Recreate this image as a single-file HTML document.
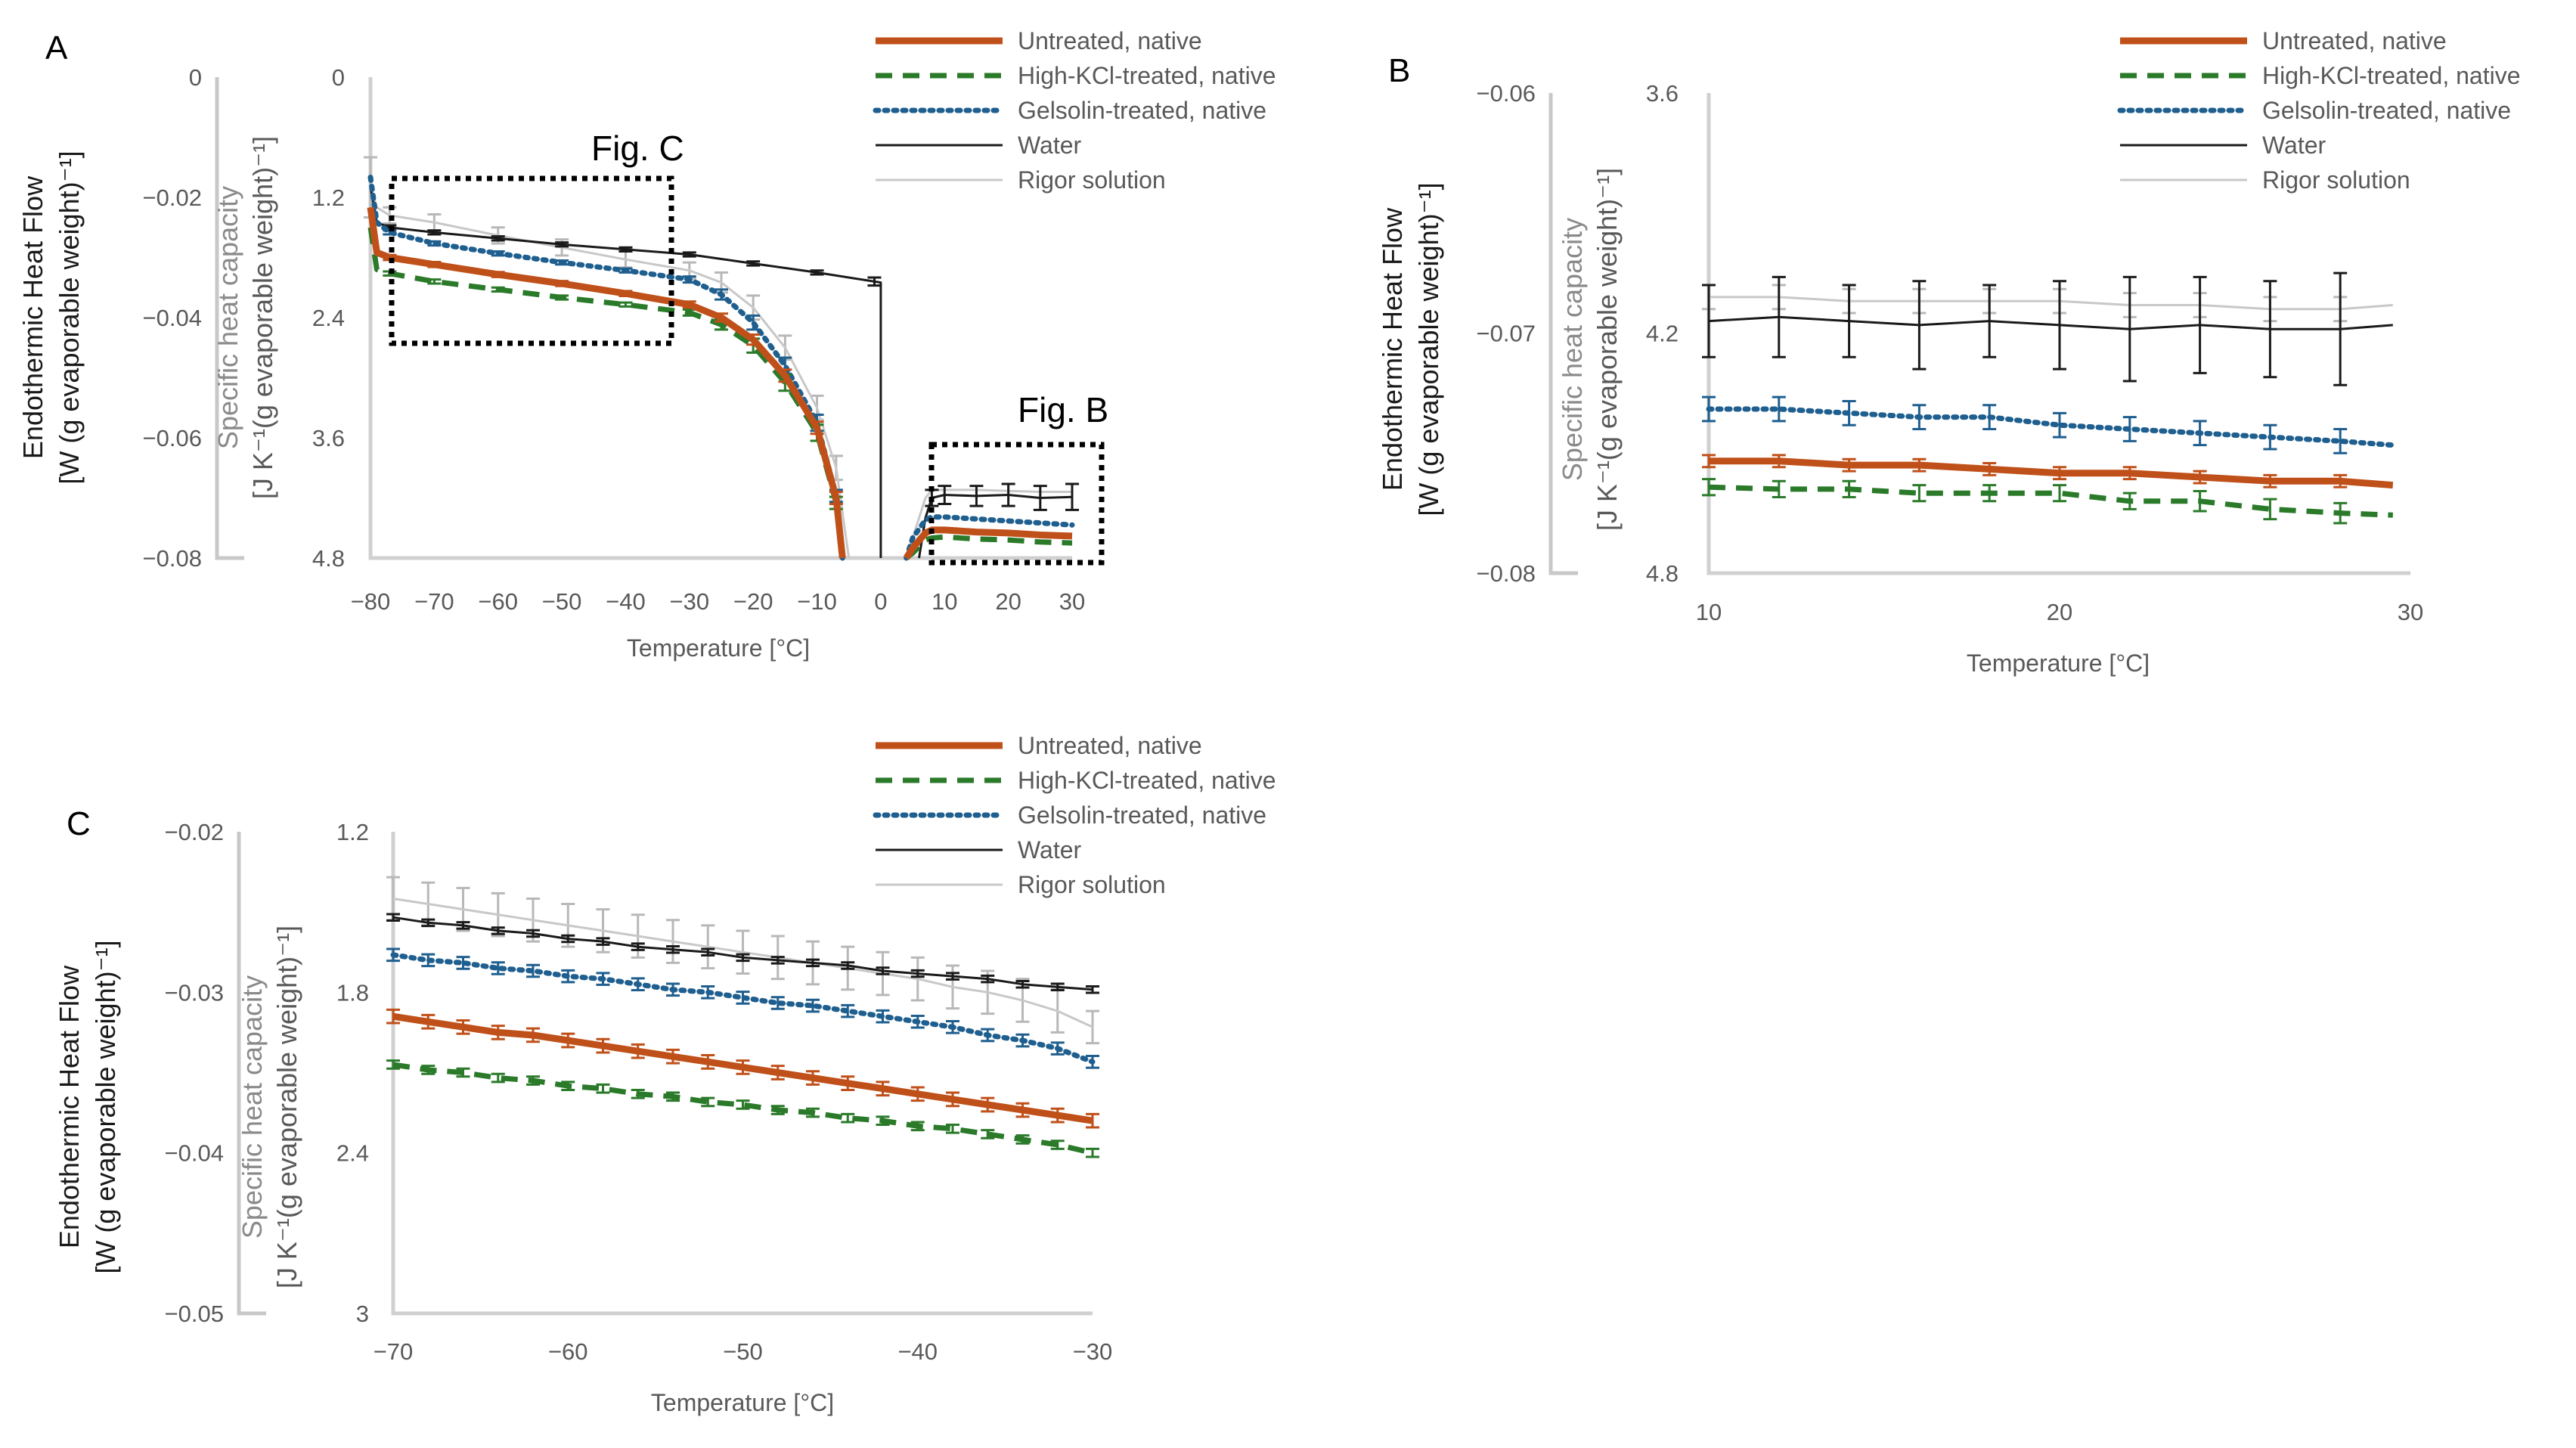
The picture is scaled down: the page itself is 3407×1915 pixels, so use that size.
<!DOCTYPE html>
<html><head><meta charset="utf-8">
<style>
html,body{margin:0;padding:0;background:#fff;}
svg{display:block;font-family:"Liberation Sans",sans-serif;}
</style></head>
<body>
<svg id="fig" width="3407" height="1915" viewBox="0 0 3407 1915" xmlns="http://www.w3.org/2000/svg">
<rect width="3407" height="1915" fill="#fff"/>
<g id="layer"></g>
</svg>
<script>
// ---------- DATA ----------
// Panel A
const aFrozenT = [-80,-79,-77,-70,-60,-50,-40,-30,-25,-20,-15,-10,-7,-6];
const aMeltT = [4,5,7,8,10,15,20,25,30];
const aWaterT = [-80,-79,-77,-70,-60,-50,-40,-30,-20,-10,-1,0,0];
const aWaterV = [1.1,1.45,1.5,1.55,1.61,1.67,1.72,1.77,1.86,1.95,2.04,2.05,4.8];
const aWaterErr = [0,0,0.02,0.02,0.02,0.02,0.02,0.02,0.02,0.02,0.04,0,0];
const aWaterMeltT = [6,7,8,10,15,20,25,30];
const aWaterMeltV = [4.8,4.4,4.2,4.17,4.18,4.17,4.2,4.19];
const aWaterMeltErr = [0,0,0.08,0.09,0.1,0.11,0.12,0.13];
const aRigorT = [-80,-79,-77,-70,-60,-50,-40,-30,-25,-20,-15,-10,-7,-5];
const aRigorV = [1.1,1.3,1.38,1.45,1.58,1.7,1.82,1.93,2.05,2.3,2.7,3.3,3.9,4.8];
const aRigorErr = [0.3,0,0.08,0.08,0.08,0.08,0.08,0.08,0.1,0.12,0.12,0.12,0.12,0];
const aRigorMeltV = [4.8,4.6,4.2,4.12,4.12,4.12,4.13,4.14,4.14];
const aUntrV = [1.3,1.75,1.8,1.87,1.97,2.06,2.16,2.27,2.4,2.62,2.98,3.5,4.2,4.8];
const aUntrErr = [0,0,0.025,0.025,0.025,0.025,0.025,0.03,0.04,0.05,0.06,0.06,0.06,0];
const aUntrMeltV = [4.8,4.7,4.55,4.52,4.52,4.54,4.55,4.57,4.58];
const aKclV = [1.5,1.92,1.96,2.04,2.12,2.2,2.27,2.35,2.47,2.68,3.05,3.55,4.25,4.8];
const aKclErr = [0,0,0.02,0.02,0.02,0.02,0.02,0.03,0.05,0.07,0.08,0.08,0.06,0];
const aKclMeltV = [4.8,4.75,4.62,4.6,4.59,4.61,4.62,4.64,4.65];
const aGelV = [1.0,1.45,1.55,1.66,1.76,1.85,1.93,2.02,2.17,2.45,2.88,3.45,4.18,4.8];
const aGelErr = [0,0,0.02,0.02,0.02,0.02,0.02,0.03,0.05,0.07,0.08,0.08,0.06,0];
const aGelMeltV = [4.8,4.6,4.42,4.39,4.39,4.41,4.43,4.45,4.47];
const aXTicks = [-80,-70,-60,-50,-40,-30,-20,-10,0,10,20,30];
const aYTicks = [0,1.2,2.4,3.6,4.8];
const aY2Ticks = ["0","\u22120.02","\u22120.04","\u22120.06","\u22120.08"];

// Panel B
const bT = [10,12,14,16,18,20,22,24,26,28,29.5];
const bWater = [4.17,4.16,4.17,4.18,4.17,4.18,4.19,4.18,4.19,4.19,4.18];
const bRigor = [4.11,4.11,4.12,4.12,4.12,4.12,4.13,4.13,4.14,4.14,4.13];
const bGel = [4.39,4.39,4.40,4.41,4.41,4.43,4.44,4.45,4.46,4.47,4.48];
const bUntr = [4.52,4.52,4.53,4.53,4.54,4.55,4.55,4.56,4.57,4.57,4.58];
const bKcl = [4.585,4.59,4.59,4.60,4.60,4.60,4.62,4.62,4.64,4.65,4.655];
const bErrWater = [0.09,0.1,0.09,0.11,0.09,0.11,0.13,0.12,0.12,0.14,0];
const bErrRigor = [0.03,0.03,0.03,0.03,0.03,0.03,0.03,0.03,0.03,0.03,0];
const bErrGel = [0.03,0.03,0.03,0.03,0.03,0.03,0.03,0.03,0.03,0.03,0];
const bErrUntr = [0.015,0.015,0.015,0.015,0.015,0.015,0.015,0.015,0.015,0.015,0];
const bErrKcl = [0.02,0.02,0.02,0.02,0.02,0.02,0.02,0.025,0.025,0.025,0];
const bXTicks = [10,20,30];
const bYTicks = [3.6,4.2,4.8];
const bY2Ticks = ["\u22120.06","\u22120.07","\u22120.08"];

// Panel C
const cT = [-70,-68,-66,-64,-62,-60,-58,-56,-54,-52,-50,-48,-46,-44,-42,-40,-38,-36,-34,-32,-30];
const cWater = [1.52,1.54,1.55,1.57,1.58,1.60,1.61,1.63,1.64,1.65,1.67,1.68,1.69,1.70,1.72,1.73,1.74,1.75,1.77,1.78,1.79];
const cRigor = [1.45,1.47,1.49,1.51,1.53,1.55,1.57,1.59,1.61,1.63,1.65,1.67,1.69,1.71,1.73,1.75,1.78,1.80,1.83,1.87,1.93];
const cGel = [1.66,1.68,1.69,1.71,1.72,1.74,1.75,1.77,1.79,1.80,1.82,1.84,1.85,1.87,1.89,1.91,1.93,1.96,1.98,2.01,2.06];
const cUntr = [1.89,1.91,1.93,1.95,1.96,1.98,2.00,2.02,2.04,2.06,2.08,2.10,2.12,2.14,2.16,2.18,2.20,2.22,2.24,2.26,2.28];
const cKcl = [2.07,2.09,2.10,2.12,2.13,2.15,2.16,2.18,2.19,2.21,2.22,2.24,2.25,2.27,2.28,2.30,2.31,2.33,2.35,2.37,2.40];
const cErrRigor = [0.08,0.08,0.08,0.08,0.08,0.08,0.08,0.08,0.08,0.08,0.08,0.08,0.08,0.08,0.08,0.08,0.08,0.08,0.08,0.08,0.06];
const cErrWater = [0.012,0.012,0.012,0.012,0.012,0.012,0.012,0.012,0.012,0.012,0.012,0.012,0.012,0.012,0.012,0.012,0.012,0.012,0.012,0.012,0.012];
const cErrGel = [0.022,0.022,0.022,0.022,0.022,0.022,0.022,0.022,0.022,0.022,0.022,0.022,0.022,0.022,0.022,0.022,0.022,0.022,0.022,0.022,0.022];
const cErrUntr = [0.025,0.025,0.025,0.025,0.025,0.025,0.025,0.025,0.025,0.025,0.025,0.025,0.025,0.025,0.025,0.025,0.025,0.025,0.025,0.025,0.025];
const cErrKcl = [0.015,0.015,0.015,0.015,0.015,0.015,0.015,0.015,0.015,0.015,0.015,0.015,0.015,0.015,0.015,0.015,0.015,0.015,0.015,0.015,0.015];
const cXTicks = [-70,-60,-50,-40,-30];
const cYTicks = [1.2,1.8,2.4,3];
const cY2Ticks = ["\u22120.02","\u22120.03","\u22120.04","\u22120.05"];

const legendNames = ["Untreated, native","High-KCl-treated, native","Gelsolin-treated, native","Water","Rigor solution"];

// ---------- STYLES ----------
const NS = "http://www.w3.org/2000/svg";
const layer = document.getElementById('layer');
const ST = {
  untr:{stroke:"#c0501a",w:9,dash:null,err:"#c0501a"},
  kcl:{stroke:"#2a7a2a",w:7,dash:"22,14",err:"#2a7a2a"},
  gel:{stroke:"#1f5f8f",w:7,dash:"4,8",err:"#1f5f8f"},
  water:{stroke:"#1a1a1a",w:3,dash:null,err:"#1a1a1a"},
  rigor:{stroke:"#c8c8c8",w:3,dash:null,err:"#b8b8b8"}
};
const legendKeys = ["untr","kcl","gel","water","rigor"];

function el(tag, attrs, parent){
  const e = document.createElementNS(NS, tag);
  for (const k in attrs) e.setAttribute(k, attrs[k]);
  (parent||layer).appendChild(e);
  return e;
}
function txt(s, attrs, parent){
  const t = el('text', attrs, parent);
  t.textContent = s;
  return t;
}

function panel(P){
  const g = el('g', {});
  
  
  const sx = v => P.x0 + (v - P.xmin) / (P.xmax - P.xmin) * (P.x1 - P.x0);
  const sy = v => P.y0 + (v - P.ymin) / (P.ymax - P.ymin) * (P.y1 - P.y0);
  const ax2 = el('path', {d:`M${P.ax2x},${P.y0} L${P.ax2x},${P.y1} L${P.ax2x+36},${P.y1}`, stroke:"#c8c8c8", "stroke-width":5, fill:"none"}, g);
  
  
  P.y2ticks.forEach((s,i)=>{
    const y = P.y0 + i/(P.y2ticks.length-1)*(P.y1-P.y0);
    const t = txt(s, {x:P.ax2x-20, y:y+11, "text-anchor":"end", "font-size":31, fill:"#595959"}, g);
    
    
  });
  const ax = el('path', {d:`M${P.x0},${P.y0} L${P.x0},${P.y1} L${P.x1},${P.y1}`, stroke:"#d0d0d0", "stroke-width":5, fill:"none"}, g);
  
  
  P.yticks.forEach(v=>{
    const t = txt(String(v), {x:P.ylx, y:sy(v)+11, "text-anchor":"end", "font-size":31, fill:"#595959"}, g);
    
    
  });
  P.xticks.forEach(v=>{
    const t = txt(v<0?"\u2212"+(-v):String(v), {x:sx(v), y:P.xly, "text-anchor":"middle", "font-size":31, fill:"#595959"}, g);
    
    
  });
  const xt = txt("Temperature [°C]", {x:P.xtx, y:P.xty, "text-anchor":"middle", "font-size":32, fill:"#595959"}, g);
  
  
  const yt1 = txt("Endothermic Heat Flow", {x:0,y:0,"text-anchor":"middle","font-size":36,fill:"#1a1a1a",transform:`translate(${P.t1x},${P.tcy}) rotate(-90)`}, g);
  
  
  const yt2 = txt("[W (g evaporable weight)\u207B\u00B9]", {x:0,y:0,"text-anchor":"middle","font-size":36,fill:"#1a1a1a",transform:`translate(${P.t1x+48},${P.tcy}) rotate(-90)`}, g);
  
  
  const yt3 = txt("Specific heat capacity", {x:0,y:0,"text-anchor":"middle","font-size":36,fill:"#8a8a8a",transform:`translate(${P.t2x},${P.tcy}) rotate(-90)`}, g);
  
  
  const yt4 = txt("[J K\u207B\u00B9(g evaporable weight)\u207B\u00B9]", {x:0,y:0,"text-anchor":"middle","font-size":36,fill:"#595959",transform:`translate(${P.t2x+46},${P.tcy}) rotate(-90)`}, g);
  
  
  const pl = txt(P.letter, {x:P.lx, y:P.ly, "font-size":44, fill:"#000"}, g);
  
  
  P.series.forEach(S=>{
    const st = ST[S.key];
    if (S.err){
      S.t.forEach((tv,i)=>{
        const e = S.err[i]; if (!e) return;
        const x = sx(tv), ya = sy(S.v[i]-e), yb = sy(S.v[i]+e);
        const b = el('path', {d:`M${x},${ya} L${x},${yb} M${x-9},${ya} L${x+9},${ya} M${x-9},${yb} L${x+9},${yb}`, stroke:st.err, "stroke-width":3, fill:"none"}, g);
        
        
      });
    }
    const pts = S.t.map((tv,i)=>sx(tv).toFixed(1)+","+sy(S.v[i]).toFixed(1)).join(" ");
    const a = {points:pts, fill:"none", stroke:st.stroke, "stroke-width":st.w, "stroke-linejoin":"round"};
    if (st.dash) a["stroke-dasharray"]=st.dash;
    if (S.key==="gel") a["stroke-linecap"]="round";
    const pl2 = el('polyline', a, g);
    
    
  });
  const lg = el('g', {}, g);
  
  
  legendKeys.forEach((k,i)=>{
    const st = ST[k], y = P.legY + i*P.legDy;
    const a = {x1:P.legX, y1:y, x2:P.legX+168, y2:y, stroke:st.stroke, "stroke-width":st.w};
    if (st.dash) a["stroke-dasharray"]=st.dash;
    if (k==="gel") a["stroke-linecap"]="round";
    const ln = el('line', a, lg);
    
    
    const t = txt(legendNames[i], {x:P.legX+188, y:y+11, "font-size":32, fill:"#595959"}, lg);
    
    
  });
  return {g, sx, sy};
}

const A = panel({name:"panel-a", letter:"A", lx:60, ly:78,
  x0:490, x1:1418, xmin:-80, xmax:30, y0:102, y1:738, ymin:0, ymax:4.8,
  ax2x:287, ylx:456, xly:806, xtx:950, xty:868, t1x:56, t2x:314, tcy:420,
  xticks:aXTicks, yticks:aYTicks, y2ticks:aY2Ticks, legX:1158, legY:54, legDy:46,
  series:[
    {key:"rigor", t:aRigorT, v:aRigorV, err:aRigorErr},
    {key:"rigor", t:aMeltT, v:aRigorMeltV, err:null},
    {key:"water", t:aWaterT, v:aWaterV, err:aWaterErr},
    {key:"water", t:aWaterMeltT, v:aWaterMeltV, err:aWaterMeltErr},
    {key:"gel", t:aFrozenT, v:aGelV, err:aGelErr},
    {key:"gel", t:aMeltT, v:aGelMeltV, err:null},
    {key:"kcl", t:aFrozenT, v:aKclV, err:aKclErr},
    {key:"kcl", t:aMeltT, v:aKclMeltV, err:null},
    {key:"untr", t:aFrozenT, v:aUntrV, err:aUntrErr},
    {key:"untr", t:aMeltT, v:aUntrMeltV, err:null}
  ]});
const boxC = el('rect', {x:518, y:236, width:370, height:218, fill:"none", stroke:"#000", "stroke-width":7, "stroke-dasharray":"7,7"}, A.g);


const lblC = txt("Fig. C", {x:782, y:212, "font-size":46, fill:"#000"}, A.g);


const boxB = el('rect', {x:1232, y:588, width:225, height:156, fill:"none", stroke:"#000", "stroke-width":7, "stroke-dasharray":"7,7"}, A.g);


const lblB = txt("Fig. B", {x:1346, y:558, "font-size":46, fill:"#000"}, A.g);



panel({name:"panel-b", letter:"B", lx:1836, ly:108,
  x0:2260, x1:3188, xmin:10, xmax:30, y0:123, y1:758, ymin:3.6, ymax:4.8,
  ax2x:2051, ylx:2220, xly:820, xtx:2722, xty:888, t1x:1854, t2x:2092, tcy:462,
  xticks:bXTicks, yticks:bYTicks, y2ticks:bY2Ticks, legX:2804, legY:54, legDy:46,
  series:[
    {key:"rigor", t:bT, v:bRigor, err:bErrRigor},
    {key:"water", t:bT, v:bWater, err:bErrWater},
    {key:"gel", t:bT, v:bGel, err:bErrGel},
    {key:"kcl", t:bT, v:bKcl, err:bErrKcl},
    {key:"untr", t:bT, v:bUntr, err:bErrUntr}
  ]});

panel({name:"panel-c", letter:"C", lx:88, ly:1104,
  x0:520, x1:1445, xmin:-70, xmax:-30, y0:1100, y1:1737, ymin:1.2, ymax:3,
  ax2x:316, ylx:488, xly:1798, xtx:982, xty:1866, t1x:104, t2x:346, tcy:1464,
  xticks:cXTicks, yticks:cYTicks, y2ticks:cY2Ticks, legX:1158, legY:986, legDy:46,
  series:[
    {key:"rigor", t:cT, v:cRigor, err:cErrRigor},
    {key:"water", t:cT, v:cWater, err:cErrWater},
    {key:"gel", t:cT, v:cGel, err:cErrGel},
    {key:"kcl", t:cT, v:cKcl, err:cErrKcl},
    {key:"untr", t:cT, v:cUntr, err:cErrUntr}
  ]});
</script>
</body></html>
